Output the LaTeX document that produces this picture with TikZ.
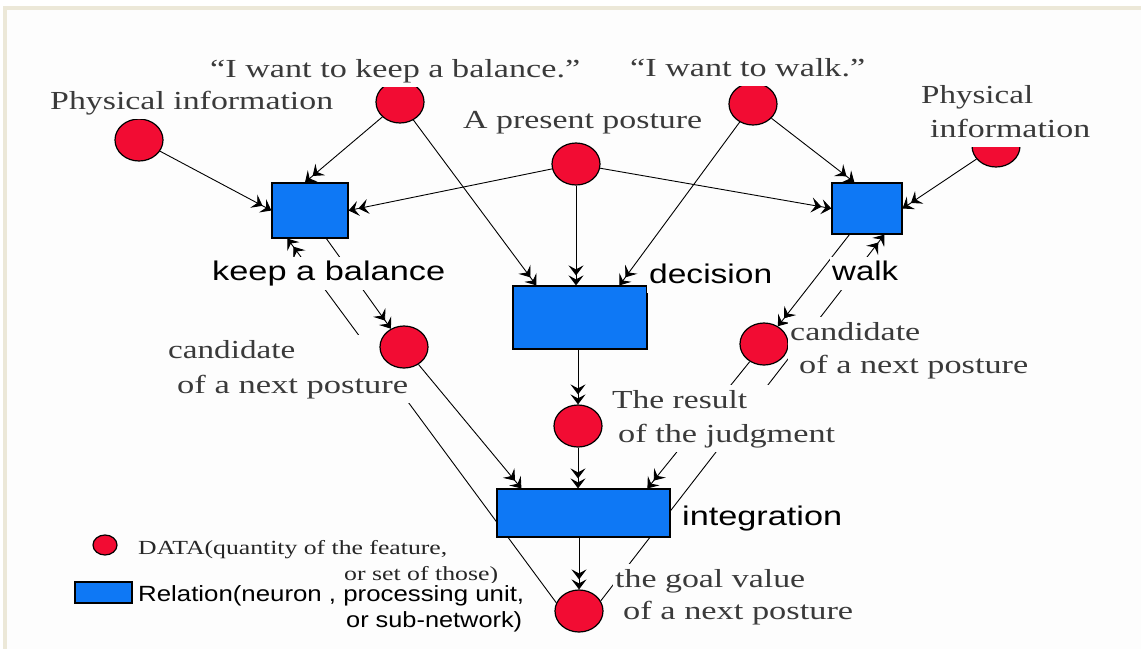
\documentclass[tikz,border=0pt]{standalone}
\usepackage{fontspec}
\usepackage{graphicx}
\usetikzlibrary{arrows.meta,calc,fit,shapes.geometric}
\newfontfamily\tnr{Liberation Serif}
\newfontfamily\arl{Liberation Sans}
\newcommand\fitto[2]{\resizebox{#1pt}{\height}{#2}}
\definecolor{datared}{RGB}{242,12,51}
\definecolor{relblue}{RGB}{14,120,245}
\definecolor{txtgrey}{RGB}{58,58,58}
\definecolor{bg}{RGB}{253,253,253}
\definecolor{framecol}{RGB}{236,232,216}
\pgfdeclarelayer{paper}
\pgfdeclarelayer{wires}
\pgfdeclarelayer{masks}
\pgfsetlayers{paper,wires,masks,main}
\tikzset{
  datum/.style={ellipse, minimum width=48pt, minimum height=42pt, inner sep=0pt,
    fill=datared, draw=black, line width=1.2pt},
  rel/.style={rectangle, inner sep=0pt, fill=relblue, draw=black, line width=1.2pt},
  wire/.style={draw=black, line width=0.9pt},
  tipped/.style={-{Stealth[length=10pt,width=15pt,inset=4pt]Stealth[length=10pt,width=15pt,inset=4pt]}},
  lbl/.style={anchor=base west, inner xsep=2pt, inner ysep=4pt, text height=19pt, text depth=6pt, fill=bg},
  serif/.style={lbl, font=\tnr\fontsize{26}{30}\selectfont, text=txtgrey},
  sans/.style={lbl, font=\arl\fontsize{27}{31}\selectfont, text=black},
  legserif/.style={lbl, text height=14pt, text depth=5pt, inner ysep=2pt, font=\tnr\fontsize{20}{24}\selectfont, text=black!85},
  legsans/.style={lbl, text height=16pt, text depth=5pt, inner ysep=2pt, font=\arl\fontsize{22}{26}\selectfont, text=black},
  mask/.style={fill=bg, inner sep=0pt, draw=none}
}
\begin{document}
\begin{tikzpicture}[x=1pt,y=-1pt]
\useasboundingbox (0,0) rectangle (1141,649);
\begin{pgfonlayer}{paper}
  \fill[white] (0,0) rectangle (1141,649);
  \fill[framecol] (3,6) rectangle (1141,649);
  \fill[bg] (7,10) rectangle (1141,649);
\end{pgfonlayer}

% data nodes and relation nodes
\node[datum] (physL) at (139,140) {};
\node[datum] (wantKeep) at (400,102) {};
\node[datum] (present) at (576,164) {};
\node[datum] (wantWalk) at (753,104) {};
\node[datum] (physR) at (996,146) {};
\node[rel, minimum width=76pt, minimum height=55pt] (keepBox) at (310,210.5) {};
\node[rel, minimum width=70pt, minimum height=51pt] (walkBox) at (867,208.5) {};
\node[rel, minimum width=134pt, minimum height=63pt] (decBox) at (580,317.5) {};
\node[datum] (result) at (578,426) {};
\node[datum] (candL) at (404,347) {};
\node[datum] (candR) at (764,344) {};
\node[rel, minimum width=173pt, minimum height=48pt] (intBox) at (583.5,513) {};
\node[datum] (goal) at (579,611) {};
\node[datum, minimum width=24pt, minimum height=20pt] (legData) at (105,545) {};
\node[rel, minimum width=57pt, minimum height=21pt] (legRel) at (103.5,592.5) {};

% labels
\node[serif] (physLtxt) at (48,109) {\fitto{283}{Physical information}};
\node[serif] (quoteKeep) at (208,77) {\fitto{370}{“I want to keep a balance.”}};
\node[serif] (quoteWalk) at (628,76) {\fitto{235}{“I want to walk.”}};
\node[serif] (presentTxt) at (461,128) {\fitto{239}{A present posture}};
\node[serif] (physRa) at (919,103) {\fitto{112}{Physical}};
\node[serif] (physRb) at (928,137) {\fitto{160}{information}};
\node[sans] (keepTxt) at (210,280) {\fitto{233}{keep a balance}};
\node[sans] (decTxt) at (647,283) {\fitto{123}{decision}};
\node[sans] (walkTxt) at (830,280) {\fitto{66}{walk}};
\node[sans] (intTxt) at (680,525) {\fitto{160}{integration}};
\node[serif] (candLa) at (166,358) {\fitto{127}{candidate}};
\node[serif] (candLb) at (175,393) {\fitto{231}{of a next posture}};
\node[serif] (candRa) at (788,340) {\fitto{130}{candidate}};
\node[serif] (candRb) at (797,373) {\fitto{229}{of a next posture}};
\node[serif] (resultA) at (610,408) {\fitto{135}{The result}};
\node[serif] (resultB) at (616,442) {\fitto{217}{of the judgment}};
\node[serif] (goalA) at (613,587) {\fitto{190}{the goal value}};
\node[serif] (goalB) at (621,619) {\fitto{230}{of a next posture}};
\node[legserif] (legA) at (136,554) {\fitto{309}{DATA(quantity of the feature,}};
\node[legserif] (legB) at (342,580) {\fitto{154}{or set of those)}};
\node[legsans] (legC) at (136,601) {\fitto{386}{Relation(neuron , processing unit,}};
\node[legsans] (legD) at (344,627) {\fitto{176}{or sub-network)}};

\begin{pgfonlayer}{masks}
  \node[mask, fit=(candLa)(candLb)] (candLmask) {};
  \node[mask, fit=(candRa)(candRb)] (candRmask) {};
  \node[mask, fit=(resultA)(resultB)] (resultMask) {};
  \node[mask, fit=(goalA)(goalB)] (goalMask) {};
\end{pgfonlayer}

% connectors
\begin{pgfonlayer}{wires}
  \draw[wire,tipped] (physL) -- (keepBox.west);
  \draw[wire,tipped] (wantKeep) -- ($(keepBox.north)+(-5,0)$);
  \draw[wire,tipped] (wantKeep) -- ($(decBox.north west)+(24,0)$);
  \draw[wire,tipped] (present) -- (keepBox.east);
  \draw[wire,tipped] (present.south) -- (present.south |- decBox.north);
  \draw[wire,tipped] (present) -- (walkBox.west);
  \draw[wire,tipped] (wantWalk) -- ($(decBox.north west)+(107,0)$);
  \draw[wire,tipped] (wantWalk) -- ($(walkBox.north west)+(23,0)$);
  \draw[wire,tipped] (physR) -- (walkBox.east);
  \draw[wire,tipped] ($(keepBox.south west)+(55,0)$) -- (candL);
  \draw[wire,tipped] (goal.160) -- ($(keepBox.south west)+(16,0)$);
  \draw[wire,tipped] (candL) -- ($(intBox.north west)+(25,0)$);
  \draw[wire,tipped] ($(walkBox.south west)+(18,0)$) -- (candR);
  \draw[wire,tipped] (goal.25) -- ($(walkBox.south west)+(53,0)$);
  \draw[wire,tipped] (decBox.south -| result) -- (result);
  \draw[wire,tipped] (result) -- (result |- intBox.north);
  \draw[wire,tipped] (candR) -- ($(intBox.north west)+(151,0)$);
  \draw[wire,tipped] (intBox.south -| goal) -- (goal);
\end{pgfonlayer}
\end{tikzpicture}
\end{document}
